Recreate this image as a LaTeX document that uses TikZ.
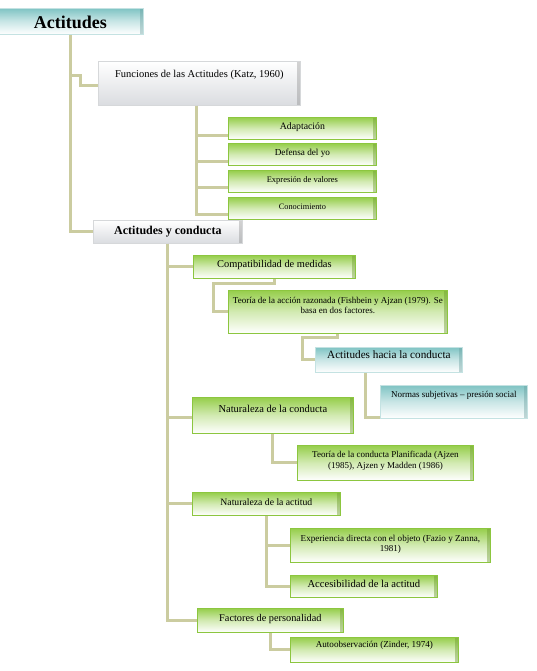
\documentclass[tikz,border=0pt]{standalone}
\usepackage{fontspec}
\setmainfont{Liberation Serif}
\usetikzlibrary{positioning, calc}
\definecolor{RamaKhaki}{RGB}{203,204,160}
\definecolor{VerdeBorde}{RGB}{140,198,63}
\definecolor{VerdeTop}{RGB}{150,206,75}
\definecolor{TurqTop}{RGB}{128,196,196}
\definecolor{TurqBorde}{RGB}{196,226,226}
\definecolor{GrisBorde}{RGB}{214,216,218}
\definecolor{GrisBajo}{RGB}{218,220,224}

\begin{document}
\begin{tikzpicture}[x=1pt, y=-1pt,
	caja/.style={anchor=north west, inner sep=0pt, align=center, line width=0.8pt},
	verde/.style={caja, draw=VerdeBorde, top color=VerdeTop, bottom color=white, middle color=VerdeTop!42,
		path picture={\fill[VerdeBorde!80!black, opacity=.45] ([xshift=-3pt]path picture bounding box.north east) rectangle (path picture bounding box.south east);}},
	turq/.style={caja, draw=TurqBorde, top color=TurqTop, bottom color=white, middle color=TurqTop!42,
		path picture={\fill[TurqTop!80!black, opacity=.4] ([xshift=-3pt]path picture bounding box.north east) rectangle (path picture bounding box.south east);}},
	gris/.style={caja, draw=GrisBorde, top color=white, bottom color=GrisBajo,
		path picture={\fill[gray, opacity=.35] ([xshift=-3pt]path picture bounding box.north east) rectangle (path picture bounding box.south east);}},
	rama/.style={draw=RamaKhaki, line width=3pt}]
	\useasboundingbox (0,0) rectangle (537,671);

	\node[turq, minimum width=146pt, text height=20pt, text depth=6pt, font=\fontsize{18}{20}\selectfont\bfseries] (actitudes) at (-3,8) {Actitudes};
	\node[gris, minimum width=202pt, text height=16pt, text depth=28pt, font=\fontsize{10.5}{12}\selectfont] (funciones) at (98,61) {Funciones de las Actitudes (Katz, 1960)};
	\node[verde, minimum width=148pt, text height=12pt, text depth=10pt, font=\fontsize{9.8}{11}\selectfont] (adapt) at (228,117) {Adaptación};
	\node[verde, minimum width=148pt, text height=12pt, text depth=10pt, font=\fontsize{9.2}{11}\selectfont] (defensa) at (228,143) {Defensa del yo};
	\node[verde, minimum width=148pt, text height=12pt, text depth=10pt, font=\fontsize{8.5}{10}\selectfont] (expresion) at (228,170) {Expresión de valores};
	\node[verde, minimum width=148pt, text height=12pt, text depth=10pt, font=\fontsize{8.3}{10}\selectfont] (conoc) at (228,197) {Conocimiento};

	\node[gris, minimum width=149pt, text height=14pt, text depth=9pt, font=\fontsize{12}{14}\selectfont\bfseries] (conducta) at (93,220) {Actitudes y conducta};
	\node[verde, minimum width=162pt, text height=12pt, text depth=11pt, font=\fontsize{10.4}{12}\selectfont] (compat) at (193,255) {Compatibilidad de medidas};
	\node[verde, minimum width=219pt, text height=23pt, text depth=20pt, font=\fontsize{9}{10}\selectfont] (teoria1) at (228,290) {Teoría de la acción razonada (Fishbein y Ajzan (1979). Se\\basa en dos factores.};
	\node[turq, minimum width=147pt, text height=11pt, text depth=14pt, font=\fontsize{11.2}{13}\selectfont] (hacia) at (315,347) {Actitudes hacia la conducta};
	\node[turq, minimum width=147pt, text height=12pt, text depth=21pt, font=\fontsize{9}{10}\selectfont] (normas) at (380,385) {Normas subjetivas – presión social};
	\node[verde, minimum width=161pt, text height=15pt, text depth=21pt, font=\fontsize{10.5}{12}\selectfont] (natcond) at (192,397) {Naturaleza de la conducta};
	\node[verde, minimum width=176pt, text height=23pt, text depth=12pt, font=\fontsize{9}{11}\selectfont] (planif) at (297,445) {Teoría de la conducta Planificada (Ajzen\\(1985), Ajzen y Madden (1986)};
	\node[verde, minimum width=148pt, text height=13pt, text depth=10pt, font=\fontsize{9.7}{11}\selectfont] (natact) at (192,492) {Naturaleza de la actitud};
	\node[verde, minimum width=200pt, text height=23pt, text depth=11pt, font=\fontsize{9.1}{10}\selectfont] (experiencia) at (290,528) {Experiencia directa con el objeto (Fazio y Zanna,\\1981)};
	\node[verde, minimum width=147pt, text height=12pt, text depth=10pt, font=\fontsize{10.6}{12}\selectfont] (accesib) at (290,575) {Accesibilidad de la actitud};
	\node[verde, minimum width=146pt, text height=13pt, text depth=11pt, font=\fontsize{10.3}{12}\selectfont] (factores) at (197,608) {Factores de personalidad};
	\node[verde, minimum width=168pt, text height=10pt, text depth=15pt, font=\fontsize{9.1}{10}\selectfont] (autoobs) at (290,637) {Autoobservación (Zinder, 1974)};

	% ramas
	\coordinate (fa) at (71,76);
	\coordinate (fb) at (80,86);
	\coordinate (cb) at (213,283);
	\coordinate (tb) at (302,337);
	\draw[rama] (actitudes.south) |- (conducta.west);
	\draw[rama] (fa) -| (fb) -- (funciones.west |- fb);
	\draw[rama] ([xshift=-3pt]funciones.south) |- ([yshift=-7pt]adapt.west);
	\draw[rama] ([xshift=-3pt]funciones.south) |- ([yshift=-7pt]defensa.west);
	\draw[rama] ([xshift=-3pt]funciones.south) |- ([yshift=-6pt]expresion.west);
	\draw[rama] ([xshift=-3pt]funciones.south) |- ([yshift=-6pt]conoc.west);
	\draw[rama] (conducta.south) |- (compat.west);
	\draw[rama] (conducta.south) |- ([yshift=-2pt]natcond.west);
	\draw[rama] (conducta.south) |- (natact.west);
	\draw[rama] (conducta.south) |- (factores.west);
	\draw[rama] (compat.south) |- (cb) |- (teoria1.west);
	\draw[rama] (teoria1.south) |- (tb) |- (hacia.west);
	\draw[rama] ([xshift=-23pt]hacia.south) |- ([yshift=1.5pt]normas.south west);
	\draw[rama] (natcond.south) |- (planif.west);
	\draw[rama] (natact.south) |- (experiencia.west);
	\draw[rama] (natact.south) |- (accesib.west);
	\draw[rama] (factores.south) |- (autoobs.west);
\end{tikzpicture}
\end{document}
